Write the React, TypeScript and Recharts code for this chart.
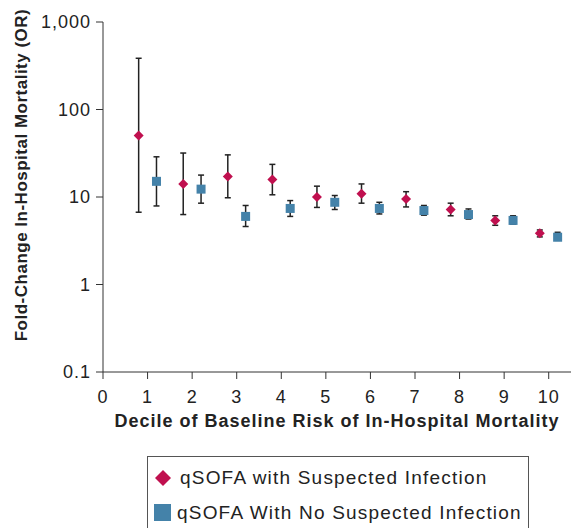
import {
  ErrorBar,
  Legend,
  Scatter,
  ScatterChart,
  XAxis,
  YAxis,
} from "recharts";

const deciles = [1, 2, 3, 4, 5, 6, 7, 8, 9, 10];

// qSOFA with suspected infection (diamonds)
const withInfOR = [50.5, 14.1, 17.2, 15.9, 10.0, 10.9, 9.5, 7.2, 5.4, 3.86];
const withInfLo = [6.7, 6.3, 9.8, 10.6, 7.6, 8.5, 7.7, 6.1, 4.75, 3.5];
const withInfHi = [385, 31.8, 30.3, 23.6, 13.3, 14.1, 11.5, 8.5, 6.1, 4.2];

// qSOFA with no suspected infection (squares)
const noInfOR = [15.1, 12.3, 6.0, 7.4, 8.7, 7.4, 7.0, 6.3, 5.4, 3.47];
const noInfLo = [7.9, 8.5, 4.6, 6.0, 7.2, 6.4, 6.2, 5.6, 4.9, 3.2];
const noInfHi = [28.8, 17.8, 8.0, 9.1, 10.4, 8.7, 8.0, 7.3, 6.1, 3.95];

const xTicks = [0, 1, 2, 3, 4, 5, 6, 7, 8, 9, 10];
const yTicks = [0.1, 1, 10, 100, 1000];

const DODGE = 0.2;
const RED = "#C0104F";
const BLUE = "#4482A9";
const FONT = "'Liberation Sans', Arial, Helvetica, sans-serif";

const build = (or: number[], lo: number[], hi: number[], shift: number) =>
  deciles.map((d, i) => ({
    x: d + shift,
    or: or[i],
    err: [or[i] - lo[i], hi[i] - or[i]],
  }));

const withInf = build(withInfOR, withInfLo, withInfHi, -DODGE);
const noInf = build(noInfOR, noInfLo, noInfHi, DODGE);

const Diamond = ({ cx, cy }: any) => (
  <polygon
    points={`${cx},${cy - 5} ${cx + 5},${cy} ${cx},${cy + 5} ${cx - 5},${cy}`}
    fill={RED}
  />
);

const Square = ({ cx, cy }: any) => (
  <rect x={cx - 4.5} y={cy - 4.5} width={9} height={9} fill={BLUE} />
);

const LegendBox = () => (
  <div
    style={{
      border: "1px solid #555",
      width: 382,
      height: 80,
      boxSizing: "border-box",
      fontFamily: FONT,
      fontSize: 19,
      letterSpacing: 1.2,
      color: "#222",
      padding: "3px 0 0 6px",
    }}
  >
    <div style={{ display: "flex", alignItems: "center", height: 35 }}>
      <svg width={18} height={18} style={{ marginRight: 8 }}>
        <polygon points="9,1 17,9 9,17 1,9" fill={RED} />
      </svg>
      qSOFA with Suspected Infection
    </div>
    <div style={{ display: "flex", alignItems: "center", height: 35 }}>
      <svg width={17} height={17} style={{ marginRight: 6 }}>
        <rect x={0} y={0} width={17} height={17} fill={BLUE} />
      </svg>
      qSOFA With No Suspected Infection
    </div>
  </div>
);

const YTitle = () => (
  <text
    x={21}
    y={175}
    transform="rotate(-90, 21, 175)"
    textAnchor="middle"
    dominantBaseline="central"
    fontFamily={FONT}
    fontWeight="bold"
    fontSize={17}
    letterSpacing={0.5}
    fill="#222"
  >
    Fold-Change In-Hospital Mortality (OR)
  </text>
);

const tickStyle = {
  fill: "#222",
  fontSize: 18,
  fontFamily: FONT,
  letterSpacing: 1,
};

export default function App() {
  return (
    <div style={{ position: "absolute", left: 0, top: 0 }}>
      <ScatterChart
        width={571}
        height={528}
        margin={{ top: 22, right: 0, bottom: 96, left: 0 }}
      >
        <XAxis
          type="number"
          dataKey="x"
          domain={[0, 10.5]}
          ticks={xTicks}
          interval={0}
          tickSize={7}
          tickMargin={11}
          height={60}
          stroke="#333"
          tick={tickStyle}
          label={{
            value: "Decile of Baseline Risk of In-Hospital Mortality",
            position: "insideBottom",
            offset: 5,
            fill: "#222",
            fontSize: 18,
            fontWeight: "bold",
            fontFamily: FONT,
            letterSpacing: 1,
          }}
        />
        <YAxis
          type="number"
          dataKey="or"
          scale="log"
          domain={[0.1, 1000]}
          ticks={yTicks}
          allowDataOverflow
          interval={0}
          width={103}
          tickSize={7}
          tickMargin={5}
          stroke="#333"
          tick={tickStyle}
          tickFormatter={(v: number) => (v === 1000 ? "1,000" : String(v))}
          label={<YTitle />}
        />
        <Legend
          layout="vertical"
          align="center"
          verticalAlign="middle"
          content={<LegendBox />}
          wrapperStyle={{ left: 147, top: 456, width: 382, height: 80 }}
        />
        <Scatter
          name="qSOFA with Suspected Infection"
          data={withInf}
          shape={<Diamond />}
          isAnimationActive={false}
        >
          <ErrorBar
            dataKey="err"
            direction="y"
            width={3}
            stroke="#222"
            strokeWidth={1.5}
          />
        </Scatter>
        <Scatter
          name="qSOFA With No Suspected Infection"
          data={noInf}
          shape={<Square />}
          isAnimationActive={false}
        >
          <ErrorBar
            dataKey="err"
            direction="y"
            width={3}
            stroke="#222"
            strokeWidth={1.5}
          />
        </Scatter>
      </ScatterChart>
    </div>
  );
}
